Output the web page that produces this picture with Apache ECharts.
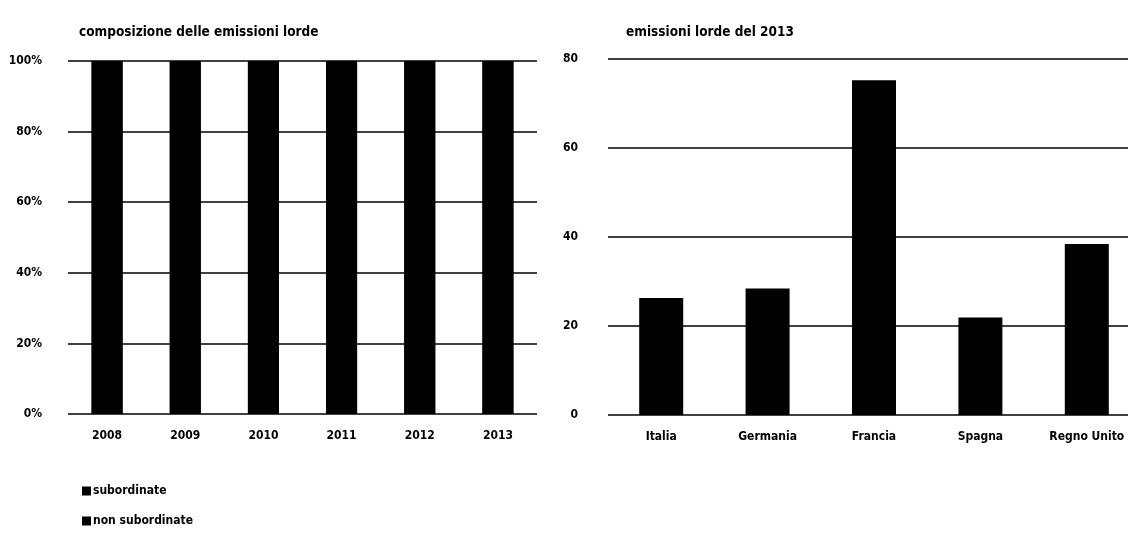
<!DOCTYPE html>
<html>
<head>
<meta charset="utf-8">
<script src="https://cdn.jsdelivr.net/npm/echarts@6/dist/echarts.min.js"></script>
<style>
  html, body { margin: 0; padding: 0; background: #fff; overflow: hidden; }
  #chart { width: 1140px; height: 533px; }
</style>
</head>
<body>
<div id="chart"></div>
<script>
// Composition of gross emissions by year (percent shares)
const years = ['2008', '2009', '2010', '2011', '2012', '2013'];
const subordinate = [70, 69, 69, 68, 68, 67];
const nonSubordinate = [30, 31, 31, 32, 32, 33];
const pctTicks = [0, 20, 40, 60, 80, 100];

// Gross emissions in 2013 by country
const countries = ['Italia', 'Germania', 'Francia', 'Spagna', 'Regno Unito'];
const emissions2013 = [26.3, 28.4, 75.2, 21.9, 38.4];

const FONT = '"DejaVu Sans Condensed", "DejaVu Sans", sans-serif';
const INK = '#000';

const chart = echarts.init(document.getElementById('chart'), null, { renderer: 'canvas' });

const textBase = { color: INK, fontFamily: FONT, fontWeight: 'bold', fontSize: 12 };
const gridLine = { show: true, lineStyle: { color: INK, width: 1.5, type: 'solid' } };
const barStyle = { color: INK };

chart.setOption({
  backgroundColor: '#fff',
  animation: false,
  title: [
    { text: 'composizione delle emissioni lorde', left: 74, top: 20,
      textStyle: Object.assign({}, textBase, { fontSize: 13.5 }) },
    { text: 'emissioni lorde del 2013', left: 621, top: 20,
      textStyle: Object.assign({}, textBase, { fontSize: 13.5 }) }
  ],
  legend: {
    data: ['subordinate', 'non subordinate'],
    orient: 'vertical',
    left: 77,
    top: 480,
    itemWidth: 9,
    itemHeight: 9,
    itemGap: 18,
    icon: 'rect',
    itemStyle: { borderWidth: 0 },
    textStyle: Object.assign({}, textBase, { padding: [0, 0, 0, -3] })
  },
  grid: [
    { left: 68, top: 61, width: 469, height: 353 },
    { left: 608, top: 59, width: 532, height: 356 }
  ],
  xAxis: [
    {
      type: 'category', gridIndex: 0, data: years,
      axisLine: { show: false }, axisTick: { show: false },
      axisLabel: Object.assign({}, textBase, { margin: 16 })
    },
    {
      type: 'category', gridIndex: 1, data: countries,
      axisLine: { show: false }, axisTick: { show: false },
      axisLabel: Object.assign({}, textBase, { margin: 16 })
    }
  ],
  yAxis: [
    {
      type: 'value', gridIndex: 0, min: pctTicks[0], max: pctTicks[pctTicks.length - 1], interval: 20,
      axisLine: { show: false }, axisTick: { show: false },
      axisLabel: Object.assign({}, textBase, { margin: 26, formatter: v => v + '%' }),
      splitLine: gridLine
    },
    {
      type: 'value', gridIndex: 1, min: 0, max: 80, interval: 20,
      axisLine: { show: false }, axisTick: { show: false },
      axisLabel: Object.assign({}, textBase, { margin: 30 }),
      splitLine: gridLine
    }
  ],
  series: [
    {
      // the full-height background equals the 100% stack and fills the joint between segments
      name: 'subordinate', type: 'bar', stack: 'comp',
      xAxisIndex: 0, yAxisIndex: 0, barWidth: 31,
      showBackground: true, backgroundStyle: { color: INK },
      itemStyle: barStyle, data: subordinate
    },
    {
      name: 'non subordinate', type: 'bar', stack: 'comp',
      xAxisIndex: 0, yAxisIndex: 0, barWidth: 31,
      itemStyle: barStyle, data: nonSubordinate
    },
    {
      name: 'emissioni 2013', type: 'bar',
      xAxisIndex: 1, yAxisIndex: 1, barWidth: 44,
      itemStyle: barStyle, data: emissions2013
    }
  ]
});
</script>
</body>
</html>
